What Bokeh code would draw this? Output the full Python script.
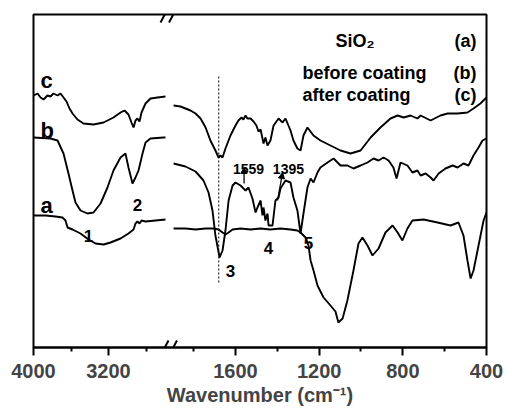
from bokeh.plotting import figure
from bokeh.models import (Range1d, FixedTicker, CustomJSTickFormatter, Label,
                          Arrow, NormalHead, ColumnDataSource)
from bokeh.embed import file_html
from bokeh.resources import INLINE

# ---------------- data (wavenumber in cm-1, transmittance in arbitrary units) -------------
a_left_wn = [4000, 3872, 3765, 3691, 3659, 3637, 3584, 3499, 3413, 3339, 3253, 3179, 3072, 2987,
             2933, 2912, 2891, 2869, 2848, 2805, 2699, 2592]
a_left_t = [132, 132, 131, 130, 127, 120, 118, 114, 108, 104, 103, 105, 109, 114,
            118, 124, 126, 124, 127, 126, 127, 128]
a_right_wn = [1896, 1839, 1791, 1743, 1705, 1681, 1662, 1648, 1633, 1614, 1576, 1528, 1480, 1433,
              1385, 1337, 1304, 1289, 1265, 1251, 1241, 1227, 1208, 1179, 1146, 1122, 1108, 1088,
              1065, 1036, 1012, 993, 969, 945, 916, 883, 849, 825, 802, 778, 754, 701, 634, 572,
              534, 510, 491, 476, 462, 438, 414, 400]
a_right_t = [119, 119, 118, 119, 119, 118, 115, 113, 115, 118, 119, 118, 119, 118,
             119, 118, 117, 115, 110, 102, 87, 77, 62, 50, 42, 36, 25, 29,
             47, 77, 104, 110, 102, 92, 99, 115, 122, 115, 107, 119, 127, 128, 125, 122,
             125, 112, 87, 69, 77, 102, 127, 135]

b_left_wn = [4000, 3819, 3744, 3680, 3627, 3584, 3552, 3499, 3424, 3360, 3285, 3211, 3147, 3072,
             3019, 2987, 2944, 2912, 2880, 2837, 2805, 2752, 2613, 2592]
b_left_t = [210, 209, 207, 194, 174, 157, 145, 137, 134, 135, 144, 160, 177, 190,
            194, 180, 164, 170, 177, 194, 205, 209, 210, 210]
b_right_wn = [1896, 1839, 1791, 1753, 1729, 1710, 1696, 1676, 1662, 1648, 1633, 1614, 1600, 1576,
              1552, 1538, 1519, 1504, 1495, 1480, 1471, 1466, 1457, 1447, 1442, 1423, 1409, 1394,
              1385, 1361, 1337, 1323, 1304, 1289, 1275, 1256, 1241, 1227, 1208, 1194, 1160, 1131,
              1098, 1065, 1036, 1002, 969, 940, 916, 892, 868, 845, 830, 811, 778, 754, 730, 715,
              691, 667, 653, 629, 596, 562, 538, 510, 486, 462, 438, 419, 400]
b_right_t = [184, 181, 176, 167, 155, 137, 112, 90, 97, 117, 147, 162, 165, 162,
             157, 160, 149, 135, 140, 147, 132, 140, 127, 134, 122, 122, 147, 150,
             159, 167, 165, 150, 137, 114, 134, 160, 169, 165, 175, 180, 185, 189,
             182, 182, 179, 182, 185, 189, 187, 190, 187, 180, 169, 185, 182, 175, 177, 172,
             174, 170, 167, 174, 179, 182, 180, 184, 182, 192, 200, 207, 209]

c_left_wn = [4000, 3957, 3925, 3893, 3851, 3819, 3787, 3744, 3712, 3680, 3648, 3616, 3584, 3531,
             3467, 3360, 3253, 3147, 3072, 3029, 2987, 2955, 2933, 2912, 2891, 2869, 2848, 2805,
             2752, 2677, 2592]
c_left_t = [252, 254, 250, 248, 252, 251, 254, 252, 254, 250, 246, 239, 234, 228,
            224, 223, 225, 230, 235, 237, 233, 225, 220, 227, 229, 226, 235, 244,
            249, 250, 251]
c_right_wn = [1896, 1863, 1839, 1815, 1791, 1767, 1743, 1720, 1696, 1681, 1672, 1662, 1648, 1624,
              1600, 1586, 1571, 1562, 1552, 1543, 1528, 1514, 1500, 1490, 1480, 1466, 1457, 1447,
              1433, 1418, 1394, 1375, 1361, 1337, 1323, 1304, 1289, 1275, 1256, 1227, 1194, 1146,
              1098, 1050, 1002, 954, 907, 859, 825, 796, 763, 730, 715, 667, 620, 586, 538, 491,
              462, 429, 400]
c_right_t = [242, 241, 239, 237, 234, 229, 220, 207, 197, 190, 192, 190, 199, 212,
             222, 227, 230, 228, 232, 229, 229, 226, 222, 216, 218, 204, 210, 202,
             207, 222, 229, 225, 229, 217, 207, 199, 197, 212, 220, 212, 207, 202,
             197, 194, 197, 210, 220, 229, 232, 230, 232, 229, 232, 227, 232, 234, 234, 235,
             239, 244, 250]

major_tick_wn = [4000, 3200, 1600, 1200, 800, 400]
minor_tick_wn = [3600, 2800, 1800, 1400, 1000, 600]
x_title = "Wavenumber (cm\u207b\u00b9)"
legend_names = ["SiO\u2082", "before coating", "after coating"]
legend_tags = ["(a)", "(b)", "(c)"]
curve_tags = ["a", "b", "c"]
peak_numbers = ["1", "2", "3", "4", "5"]
peak_wn = [3413, 2891, 1624, 1442, 1251]
peak_label_t = [112, 143, 77, 100, 105]
arrow_labels = ["1559", "1395"]
dotted_wn = 1680

# ---------------- broken axis mapping ---------------------------------------------
LEFT_SCALE = 0.09375          # virtual units per cm-1, 4000..2560 panel
RIGHT_SCALE = 251.0 / 1200.0  # virtual units per cm-1, 1920..400 panel
BREAK = 135.0


def vx(w):
    if w >= 2200:
        return (4000 - w) * LEFT_SCALE
    return 202.0 + (1600 - w) * RIGHT_SCALE


FONT = "Liberation Sans"

p = figure(width=506, height=411, output_backend="svg", toolbar_location=None,
           x_range=Range1d(-0.01, 453.01), y_range=Range1d(0, 333),
           min_border_left=33, min_border_right=20, min_border_top=14, min_border_bottom=64)
p.background_fill_color = "white"
p.border_fill_color = "white"
p.outline_line_color = "black"
p.outline_line_width = 2
p.grid.visible = False
p.yaxis.visible = False

xa = p.xaxis[0]
xa.ticker = FixedTicker(ticks=[vx(w) for w in major_tick_wn],
                        minor_ticks=[vx(w) for w in minor_tick_wn])
xa.formatter = CustomJSTickFormatter(code="""
    const w = tick <= 135 ? 4000 - tick / 0.09375 : 1600 - (tick - 202) / (251 / 1200);
    return Math.round(w).toString();
""")
xa.axis_line_width = 2
xa.major_tick_line_width = 2
xa.minor_tick_line_width = 2
xa.major_tick_out = 8
xa.major_tick_in = 0
xa.minor_tick_out = 4
xa.minor_tick_in = 0
xa.major_label_text_font = FONT
xa.major_label_text_font_style = "bold"
xa.major_label_text_font_size = "20px"
xa.major_label_standoff = 8
xa.axis_label = x_title
xa.axis_label_text_font = FONT
xa.axis_label_text_font_style = "bold"
xa.axis_label_text_font_size = "20px"
xa.axis_label_standoff = 3

LW = 1.9
for wn, t in [(a_left_wn, a_left_t), (a_right_wn, a_right_t),
              (b_left_wn, b_left_t), (b_right_wn, b_right_t),
              (c_left_wn, c_left_t), (c_right_wn, c_right_t)]:
    src = ColumnDataSource(dict(x=[vx(w) for w in wn], y=t))
    p.line("x", "y", source=src, line_color="black", line_width=LW)

# dotted guide line through peak 3
p.segment(x0=[vx(dotted_wn)], y0=[65], x1=[vx(dotted_wn)], y1=[272],
          line_color="black", line_width=1, line_dash="2 2")

# axis break marks
for y0 in (-8, 325):
    for dx in (0, 8.5):
        p.add_layout(Arrow(x_start=BREAK - 8 + dx, y_start=y0, x_end=BREAK + dx, y_end=y0 + 15,
                           end=None, line_color="black", line_width=2))


def lab(text, x, y, size, align="left", baseline="alphabetic"):
    p.add_layout(Label(x=x, y=y, text=text, text_font=FONT, text_font_style="bold",
                       text_font_size=size, text_align=align, text_baseline=baseline,
                       text_color="black"))


# legend-like text block (top right)
legend_y = [307, 275, 253]
legend_x = [302, 269, 269]
for name, tag, y, x in zip(legend_names, legend_tags, legend_y, legend_x):
    lab(name, x, y, "18px")
    lab(tag, 443, y, "18px", align="right")

# curve labels
for tag, y in zip(curve_tags, [142, 217, 267]):
    lab(tag, 7, y, "22px")

# peak numbers
for n, w, t in zip(peak_numbers, peak_wn, peak_label_t):
    lab(n, vx(w), t, "17px", align="center")

# arrow annotations 1559 / 1395
lab(arrow_labels[0], vx(1538), 179, "14px", align="center")
lab(arrow_labels[1], vx(1347), 179, "14px", align="center")
p.add_layout(Arrow(x_start=vx(1559), y_start=164, x_end=vx(1559), y_end=180,
                   line_color="black", line_width=1.3,
                   end=NormalHead(size=6, fill_color="black", line_color="black")))
p.add_layout(Arrow(x_start=vx(1399), y_start=147, x_end=vx(1375), y_end=175,
                   line_color="black", line_width=1.3,
                   end=NormalHead(size=6, fill_color="black", line_color="black")))

open("out.html", "w").write(file_html(p, INLINE))
